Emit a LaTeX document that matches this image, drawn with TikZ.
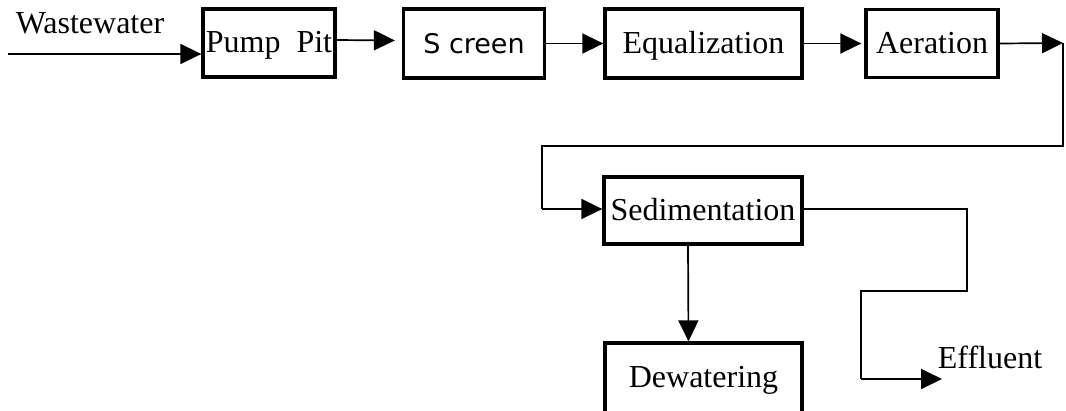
\documentclass[tikz,border=0pt]{standalone}
\usepackage{fontspec}
\setmainfont{Liberation Serif}
\newfontfamily\screenfont{DejaVu Sans}
\usetikzlibrary{arrows.meta}

\tikzset{
  stage/.style={draw, line width=3.3pt, rectangle, inner sep=0pt,
    font=\fontsize{32}{36}\selectfont, text height=22pt, text depth=3pt},
  flow/.style={line width=1.7pt, -{Triangle[length=21pt,width=20pt]}},
  pipe/.style={line width=1.7pt},
  tag/.style={font=\fontsize{32}{36}\selectfont, anchor=base, inner sep=0pt}
}

\begin{document}
\begin{tikzpicture}[x=1pt,y=-1pt]
  \useasboundingbox[fill=white] (0,0) rectangle (1066,410);

  % process stages
  \node[stage, minimum width=132pt, minimum height=68pt] (pp)  at (269,43)    {Pump\ \ Pit};
  \node[stage, minimum width=141pt, minimum height=69pt, font=\screenfont\fontsize{27}{32}\selectfont] (sc) at (474,43.5) {S creen};
  \node[stage, minimum width=197pt, minimum height=69pt] (eq)  at (703.5,43.5) {Equalization};
  \node[stage, minimum width=132pt, minimum height=68pt] (ae)  at (932,43.5)   {Aeration};
  \node[stage, minimum width=198pt, minimum height=67pt] (sed) at (703,210.5)  {Sedimentation};
  \node[stage, minimum width=197pt, minimum height=70pt] (dw)  at (703.5,378)  {Dewatering};

  % free labels
  \node[tag] (ww)  at (90,33)   {Wastewater};
  \node[tag] (eff) at (990,368) {Effluent};

  % routing points
  \coordinate (win)  at (8,54);
  \coordinate (a1)   at (1063,43);
  \coordinate (a2)   at (1063,146);
  \coordinate (a3)   at (542,146);
  \coordinate (a4)   at (542,209);
  \coordinate (s1)   at (967,209);
  \coordinate (s2)   at (967,291);
  \coordinate (s3)   at (861,291);
  \coordinate (s4)   at (861,379);
  \coordinate (etip) at (942,379);

  % main line
  \draw[flow] (win) -- (win -| pp.west);
  \draw[flow] ([yshift=3pt]pp.east) -- ([yshift=3pt,xshift=-7pt]sc.west);
  \draw[flow] (sc.east) -- (eq.west);
  \draw[flow] (eq.east) -- ([xshift=-3pt]ae.west);
  \draw[flow] (ae.east) -- (a1);

  % return to sedimentation
  \draw[pipe] (a1) -- (a2) -- (a3) -- (a4);
  \draw[flow] (a4) -- (a4 -| sed.west);

  % sludge to dewatering
  \draw[flow] ([xshift=-15pt]sed.south) -- ([xshift=-15pt]dw.north);

  % effluent outlet
  \draw[pipe] (s1 -| sed.east) -- (s1) -- (s2) -- (s3) -- (s4);
  \draw[flow] (s4) -- (etip);
\end{tikzpicture}
\end{document}
